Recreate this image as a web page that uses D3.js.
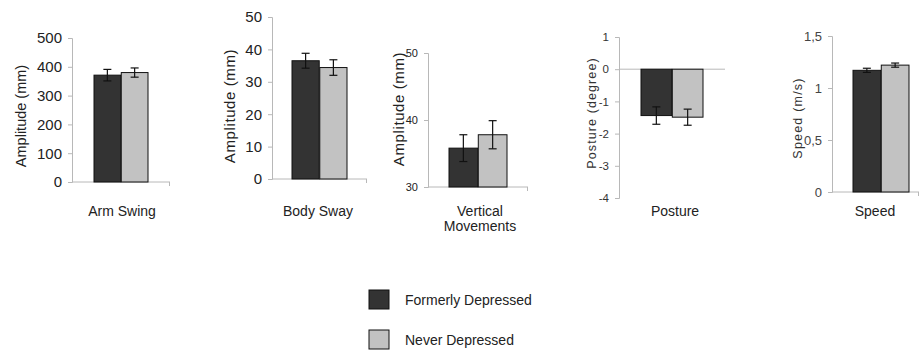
<!DOCTYPE html>
<html lang="en">
<head>
    <meta charset="UTF-8">
    <title>Gait measures</title>
    <script src="https://d3js.org/d3.v7.min.js"></script>
    <style>
        body {
            margin: 0;
            background: #fff;
            font-family: 'Liberation Sans', Arial, sans-serif;
        }
        svg text { font-family: 'Liberation Sans', Arial, sans-serif; }
        .axis-line { stroke: #b8b8b8; stroke-width: 1; }
        .bar { stroke: #111; stroke-width: 1; }
        .err { stroke: #111; stroke-width: 1.2; }
    </style>
</head>
<body>
<svg width="919" height="351"></svg>
<script>
    // data
    const categories = ["Arm Swing", "Body Sway", "Vertical Movements", "Posture", "Speed"];
    const seriesNames = ["Formerly Depressed", "Never Depressed"];
    const formerly = [371, 36.5, 35.8, -1.44, 1.17];
    const formerlyErr = [20, 2.3, 2.0, 0.27, 0.02];
    const never = [380, 34.4, 37.8, -1.49, 1.22];
    const neverErr = [16, 2.4, 2.1, 0.25, 0.02];
    const yTitles = ["Amplitude (mm)", "Amplitude (mm)", "Amplitude (mm)", "Posture (degree)", "Speed (m/s)"];
    const yDomains = [[0, 500], [0, 50], [30, 50], [-4, 1], [0, 1.5]];
    const yTicks = [
        [0, 100, 200, 300, 400, 500],
        [0, 10, 20, 30, 40, 50],
        [30, 40, 50],
        [-4, -3, -2, -1, 0, 1],
        [0, 0.5, 1, 1.5]
    ];
    const tickLabels = [
        ["0", "100", "200", "300", "400", "500"],
        ["0", "10", "20", "30", "40", "50"],
        ["30", "40", "50"],
        ["-4", "-3", "-2", "-1", "0", "1"],
        ["0", "0,5", "1", "1,5"]
    ];

    const colors = ["#333333", "#c2c2c2"];

    // layout of each small panel
    const panels = [
        { ax: 72,  top: 38, bottom: 182, xEnd: 170, b0: 94,  b1: 148, tickFont: 15, tickColor: "#222", titleX: 21,  titleY: 116, titleFont: 14.5, titleSpacing: 0,   titleColor: "#222", catX: 122 },
        { ax: 272, top: 17, bottom: 179, xEnd: 367, b0: 292, b1: 347, tickFont: 15, tickColor: "#222", titleX: 229, titleY: 106, titleFont: 15,   titleSpacing: 0.6, titleColor: "#222", catX: 318 },
        { ax: 428, top: 53, bottom: 187, xEnd: 528, b0: 449, b1: 507, tickFont: 11, tickColor: "#222", titleX: 398, titleY: 109, titleFont: 15,   titleSpacing: 0.6, titleColor: "#222", catX: 480 },
        { ax: 619, top: 37, bottom: 198, xEnd: 725, b0: 641, b1: 703, tickFont: 11.5, tickColor: "#333", titleX: 592, titleY: 113, titleFont: 12.5, titleSpacing: 1.1, titleColor: "#333", catX: 675 },
        { ax: 832, top: 36, bottom: 192, xEnd: 919, b0: 853, b1: 909, tickFont: 13, tickColor: "#444", titleX: 798, titleY: 118, titleFont: 12.5, titleSpacing: 1.2, titleColor: "#333", catX: 875 }
    ];

    const svg = d3.select("svg");

    categories.forEach((cat, i) => {
        const p = panels[i];
        const g = svg.append("g");
        const y = d3.scaleLinear().domain(yDomains[i]).range([p.bottom, p.top]);
        const x = d3.scaleBand().domain(seriesNames).range([p.b0, p.b1]).paddingInner(0.02);
        const base = y(Math.max(0, yDomains[i][0]));

        // y axis
        const yAxis = d3.axisLeft(y)
            .tickValues(yTicks[i])
            .tickFormat((d, k) => tickLabels[i][k])
            .tickSize(4)
            .tickPadding(6);
        const ga = g.append("g").attr("transform", `translate(${p.ax},0)`).call(yAxis);
        ga.attr("font-family", null);
        ga.select(".domain").attr("stroke", "#b8b8b8");
        ga.selectAll(".tick line").attr("stroke", "#b8b8b8");
        ga.selectAll(".tick text")
            .attr("font-size", p.tickFont)
            .attr("fill", p.tickColor);

        // baseline
        g.append("line").attr("class", "axis-line")
            .attr("x1", p.ax).attr("x2", p.xEnd)
            .attr("y1", base).attr("y2", base);
        if (i !== 3) {
            g.append("line").attr("class", "axis-line")
                .attr("x1", p.xEnd - 0.5).attr("x2", p.xEnd - 0.5)
                .attr("y1", base).attr("y2", base + 4);
        }

        // bars
        const rows = [
            { s: seriesNames[0], v: formerly[i], e: formerlyErr[i] },
            { s: seriesNames[1], v: never[i], e: neverErr[i] }
        ];
        g.selectAll("rect.bar").data(rows).join("rect")
            .attr("class", "bar")
            .attr("x", d => x(d.s))
            .attr("width", x.bandwidth())
            .attr("y", d => Math.min(y(d.v), base))
            .attr("height", d => Math.abs(y(d.v) - base))
            .attr("fill", (d, k) => colors[k]);

        // error bars
        const cap = 4;
        rows.forEach(d => {
            const cx = x(d.s) + x.bandwidth() / 2;
            const lo = y(d.v - d.e), hi = y(d.v + d.e);
            g.append("line").attr("class", "err").attr("x1", cx).attr("x2", cx).attr("y1", lo).attr("y2", hi);
            g.append("line").attr("class", "err").attr("x1", cx - cap).attr("x2", cx + cap).attr("y1", lo).attr("y2", lo);
            g.append("line").attr("class", "err").attr("x1", cx - cap).attr("x2", cx + cap).attr("y1", hi).attr("y2", hi);
        });

        // y title
        g.append("text")
            .attr("transform", `translate(${p.titleX},${p.titleY}) rotate(-90)`)
            .attr("text-anchor", "middle")
            .attr("dominant-baseline", "central")
            .attr("font-size", p.titleFont)
            .attr("letter-spacing", p.titleSpacing)
            .attr("fill", p.titleColor)
            .text(yTitles[i]);

        // category label
        const words = cat === "Vertical Movements" ? ["Vertical", "Movements"] : [cat];
        words.forEach((w, k) => {
            g.append("text")
                .attr("x", p.catX)
                .attr("y", 216 + k * 15)
                .attr("text-anchor", "middle")
                .attr("font-size", 14)
                .attr("fill", "#222")
                .text(w);
        });
    });

    // legend
    const legend = svg.append("g");
    seriesNames.forEach((name, k) => {
        const ly = [290, 330][k];
        legend.append("rect")
            .attr("x", 369).attr("y", ly)
            .attr("width", 20).attr("height", 19)
            .attr("fill", colors[k])
            .attr("stroke", "#111");
        legend.append("text")
            .attr("x", 405).attr("y", ly + 15)
            .attr("font-size", 14)
            .attr("fill", "#222")
            .text(name);
    });
</script>
</body>
</html>
